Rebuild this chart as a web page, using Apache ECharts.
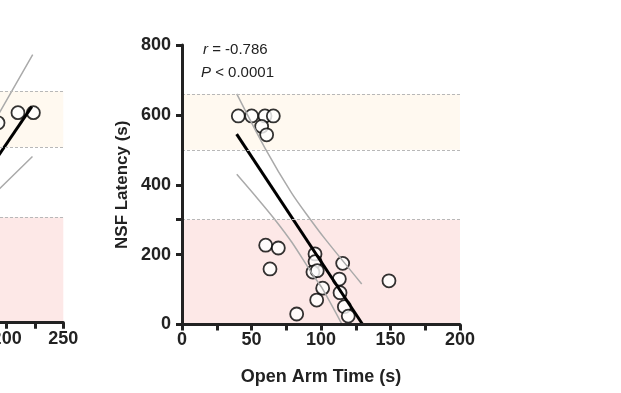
<!DOCTYPE html>
<html><head><meta charset="utf-8">
<script src="https://cdn.jsdelivr.net/npm/echarts@6/dist/echarts.min.js"></script>
<style>html,body{margin:0;padding:0;background:#fff}#c{width:621px;height:393px}</style>
</head><body><div id="c"></div>
<script>
// ---- data: right panel ----
const openArm = [40.5, 50.1, 59.7, 65.7, 57.3, 60.9, 60.2, 69.3, 63.3, 95.7, 95.7, 94.2, 97.3, 115.6, 113.2, 101.2, 113.7, 96.9, 116.8, 119.6, 82.5, 148.9];
const nsfLatency = [597, 597, 597, 597, 567, 543, 227, 219, 159, 202, 180, 150, 154, 175, 130, 104, 91, 70, 51, 24, 30, 125];
const fitLine = [[39.3, 545], [130, 0]];
const upperCI = [[39.4, 660], [59.7, 505], [78.9, 376], [92.1, 302], [102.9, 245], [129.3, 116]];
const lowerCI = [[39.4, 430], [54.9, 358], [66.9, 300], [78.9, 236], [94.5, 140], [100.5, 106], [114.9, 2]];
// ---- data: left (cropped) panel ----
const leftX = [192.4, 210, 223.6];
const leftY = [569, 598, 598];
const leftFit = [[185, 439], [222.2, 615]];
const leftUpper = [[185, 550], [194.2, 601], [223, 763]];
const leftLower = [[185, 354], [194.2, 383], [222.8, 473]];
// ---- bands / ticks ----
const nonRespBand = [500, 660];
const respBand = [0, 300];
const xLabelStep = 50;
const yTickValues = [0, 200, 300, 400, 600, 800];
const yLabelValues = [0, 200, 400, 600, 800];

const FONT = 'Liberation Sans, Arial, Helvetica, sans-serif';
const axisColor = '#222';

function bands() {
  return {
    silent: true,
    itemStyle: { opacity: 1 },
    data: [
      [{ yAxis: nonRespBand[0], itemStyle: { color: '#fff9f0' } }, { yAxis: nonRespBand[1] }],
      [{ yAxis: respBand[0], itemStyle: { color: '#fde8e7' } }, { yAxis: respBand[1] }]
    ]
  };
}
function bandLines() {
  return {
    silent: true, symbol: 'none', label: { show: false },
    lineStyle: { color: '#b8b8b8', type: [3, 2], width: 1 },
    data: [{ yAxis: respBand[1] }, { yAxis: nonRespBand[0] }, { yAxis: nonRespBand[1] }]
  };
}
function xAxisCfg(grid, min, max, name) {
  return {
    gridIndex: grid, type: 'value', min: min, max: max, interval: 25, z: 10,
    axisLine: { show: true, onZero: false, lineStyle: { color: axisColor, width: 3 } },
    axisTick: { show: true, length: 6, lineStyle: { color: axisColor, width: 3 } },
    axisLabel: { formatter: v => (v % xLabelStep === 0 ? String(v) : ''), fontSize: 18, fontWeight: 'bold', color: axisColor, fontFamily: FONT, margin: 7 },
    splitLine: { show: false },
    name: name, nameLocation: 'middle', nameGap: 44,
    nameTextStyle: { fontSize: 18, fontWeight: 'bold', color: axisColor, fontFamily: FONT }
  };
}
function yAxisCfg(grid, name) {
  return {
    gridIndex: grid, type: 'value', min: 0, max: 800, interval: 100, z: 10,
    axisLine: { show: true, onZero: false, lineStyle: { color: axisColor, width: 3 } },
    axisTick: { show: true, length: 6, customValues: yTickValues, lineStyle: { color: axisColor, width: 3 } },
    axisLabel: { customValues: yLabelValues, fontSize: 18, fontWeight: 'bold', color: axisColor, fontFamily: FONT, margin: 11 },
    splitLine: { show: false },
    name: name, nameLocation: 'middle', nameGap: 51,
    nameTextStyle: { fontSize: 17, fontWeight: 'bold', color: axisColor, fontFamily: FONT }
  };
}
const circleStyle = { color: '#fff', borderColor: '#000', borderWidth: 1.8 };

const option = {
  animation: false,
  grid: [
    { left: -220, width: 283.3, top: 41.7, height: 281, outerBoundsMode: 'none', containLabel: false },
    { left: 182, width: 278, top: 45, height: 279.5, outerBoundsMode: 'none', containLabel: false }
  ],
  xAxis: [xAxisCfg(0, 0, 250, ''), xAxisCfg(1, 0, 200, 'Open Arm Time (s)')],
  yAxis: [yAxisCfg(0, ''), yAxisCfg(1, 'NSF Latency (s)')],
  series: [
    { type: 'scatter', xAxisIndex: 0, yAxisIndex: 0, symbolSize: 13, itemStyle: circleStyle, z: 2,
      data: leftX.map((x, i) => [x, leftY[i]]), markArea: bands(), markLine: bandLines() },
    { type: 'line', xAxisIndex: 0, yAxisIndex: 0, data: leftFit, symbol: 'none', lineStyle: { color: '#000', width: 3 }, z: 4 },
    { type: 'line', xAxisIndex: 0, yAxisIndex: 0, data: leftUpper, symbol: 'none', lineStyle: { color: '#aaa', width: 1.5 }, z: 3 },
    { type: 'line', xAxisIndex: 0, yAxisIndex: 0, data: leftLower, symbol: 'none', lineStyle: { color: '#aaa', width: 1.5 }, z: 3 },

    { type: 'scatter', xAxisIndex: 1, yAxisIndex: 1, symbolSize: 13, itemStyle: circleStyle, z: 2,
      data: openArm.map((x, i) => [x, nsfLatency[i]]), markArea: bands(), markLine: bandLines() },
    { type: 'line', xAxisIndex: 1, yAxisIndex: 1, data: fitLine, symbol: 'none', lineStyle: { color: '#000', width: 3 }, z: 4 },
    { type: 'line', xAxisIndex: 1, yAxisIndex: 1, data: upperCI, symbol: 'none', smooth: 0.3, lineStyle: { color: '#aaa', width: 1.5 }, z: 3 },
    { type: 'line', xAxisIndex: 1, yAxisIndex: 1, data: lowerCI, symbol: 'none', smooth: 0.3, lineStyle: { color: '#aaa', width: 1.5 }, z: 3 }
  ],
  graphic: [
    { type: 'text', x: 203, y: 50, style: { text: '{i|r} = -0.786', rich: { i: { fontStyle: 'italic', fontSize: 15, fontFamily: FONT, fill: '#222' } }, fontSize: 15, fontFamily: FONT, fill: '#222', verticalAlign: 'middle', align: 'left' } },
    { type: 'text', x: 201, y: 72.5, style: { text: '{i|P} < 0.0001', rich: { i: { fontStyle: 'italic', fontSize: 15, fontFamily: FONT, fill: '#222' } }, fontSize: 15, fontFamily: FONT, fill: '#222', verticalAlign: 'middle', align: 'left' } },
    { type: 'text', x: 460, y: 106, style: { text: 'Non-responders', fontSize: 15, fontWeight: 'bold', fontFamily: FONT, fill: '#333', verticalAlign: 'middle', align: 'right' } },
    { type: 'text', x: 457, y: 231, style: { text: 'Responders', fontSize: 15, fontWeight: 'bold', fontFamily: FONT, fill: '#333', verticalAlign: 'middle', align: 'right' } }
  ]
};
echarts.init(document.getElementById('c'), null, { renderer: 'canvas' }).setOption(option);
</script></body></html>
